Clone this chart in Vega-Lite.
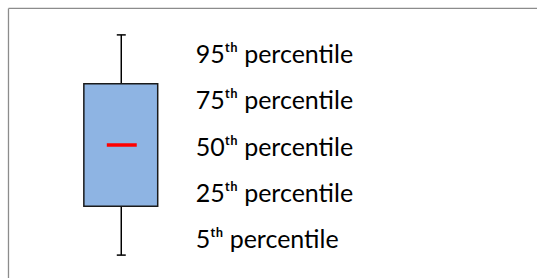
{
  "$schema": "https://vega.github.io/schema/vega-lite/v6.json",
  "width": 538,
  "height": 279,
  "autosize": {"type": "fit", "contains": "padding"},
  "padding": 0,
  "background": "white",
  "config": {
    "view": {"stroke": null},
    "axis": {"disable": true},
    "legend": {"disable": true}
  },
  "datasets": {
    "stats": [{"p5": 5, "p25": 25, "p50": 50, "p75": 75, "p95": 95}],
    "labels": [
      {"rank": 1, "label": "95ᵗʰ percentile"},
      {"rank": 2, "label": "75ᵗʰ percentile"},
      {"rank": 3, "label": "50ᵗʰ percentile"},
      {"rank": 4, "label": "25ᵗʰ percentile"},
      {"rank": 5, "label": "5ᵗʰ percentile"}
    ]
  },
  "resolve": {"scale": {"y": "independent"}},
  "layer": [
    {
      "data": {"name": "stats"},
      "mark": {"type": "rule", "color": "#8c8c8c", "strokeWidth": 1.3},
      "encoding": {
        "x": {"datum": 8.5, "type": "quantitative", "scale": {"domain": [0, 538], "nice": false, "zero": false}},
        "x2": {"datum": 538},
        "y": {"datum": 105.8, "type": "quantitative", "scale": {"domain": [-4.357, 109.26], "nice": false, "zero": false}}
      }
    },
    {
      "data": {"name": "stats"},
      "mark": {"type": "rule", "color": "#8c8c8c", "strokeWidth": 1.3},
      "encoding": {
        "x": {"datum": 8.5, "type": "quantitative", "scale": {"domain": [0, 538], "nice": false, "zero": false}},
        "y": {"datum": 105.8, "type": "quantitative", "scale": {"domain": [-4.357, 109.26], "nice": false, "zero": false}},
        "y2": {"datum": -4.357}
      }
    },
    {
      "data": {"name": "stats"},
      "mark": {"type": "rule", "color": "#000000", "strokeWidth": 1.5},
      "encoding": {
        "x": {"datum": 121.5, "type": "quantitative", "scale": {"domain": [0, 538], "nice": false, "zero": false}},
        "y": {"field": "p75", "type": "quantitative", "scale": {"domain": [-4.357, 109.26], "nice": false, "zero": false}},
        "y2": {"field": "p95"}
      }
    },
    {
      "data": {"name": "stats"},
      "mark": {"type": "rule", "color": "#000000", "strokeWidth": 1.5},
      "encoding": {
        "x": {"datum": 121.5, "type": "quantitative", "scale": {"domain": [0, 538], "nice": false, "zero": false}},
        "y": {"field": "p5", "type": "quantitative", "scale": {"domain": [-4.357, 109.26], "nice": false, "zero": false}},
        "y2": {"field": "p25"}
      }
    },
    {
      "data": {"name": "stats"},
      "mark": {"type": "rule", "color": "#000000", "strokeWidth": 1.5},
      "encoding": {
        "x": {"datum": 117, "type": "quantitative", "scale": {"domain": [0, 538], "nice": false, "zero": false}},
        "x2": {"datum": 126},
        "y": {"field": "p95", "type": "quantitative", "scale": {"domain": [-4.357, 109.26], "nice": false, "zero": false}}
      }
    },
    {
      "data": {"name": "stats"},
      "mark": {"type": "rule", "color": "#000000", "strokeWidth": 1.5},
      "encoding": {
        "x": {"datum": 117, "type": "quantitative", "scale": {"domain": [0, 538], "nice": false, "zero": false}},
        "x2": {"datum": 126},
        "y": {"field": "p5", "type": "quantitative", "scale": {"domain": [-4.357, 109.26], "nice": false, "zero": false}}
      }
    },
    {
      "data": {"name": "stats"},
      "mark": {"type": "rect", "fill": "#8eb4e3", "stroke": "#1a1a1a", "strokeWidth": 1.5},
      "encoding": {
        "x": {"datum": 84, "type": "quantitative", "scale": {"domain": [0, 538], "nice": false, "zero": false}},
        "x2": {"datum": 158},
        "y": {"field": "p25", "type": "quantitative", "scale": {"domain": [-4.357, 109.26], "nice": false, "zero": false}},
        "y2": {"field": "p75"}
      }
    },
    {
      "data": {"name": "stats"},
      "mark": {"type": "rule", "color": "#ff0000", "strokeWidth": 3.5},
      "encoding": {
        "x": {"datum": 107, "type": "quantitative", "scale": {"domain": [0, 538], "nice": false, "zero": false}},
        "x2": {"datum": 137},
        "y": {"field": "p50", "type": "quantitative", "scale": {"domain": [-4.357, 109.26], "nice": false, "zero": false}}
      }
    },
    {
      "data": {"name": "labels"},
      "mark": {"type": "text", "align": "left", "baseline": "alphabetic", "font": "Lato, DejaVu Sans", "fontSize": 25, "color": "#000000"},
      "encoding": {
        "x": {"datum": 196, "type": "quantitative", "scale": {"domain": [0, 538], "nice": false, "zero": false}},
        "y": {"field": "rank", "type": "ordinal", "scale": {"type": "point", "range": [63, 248], "padding": 0}},
        "text": {"field": "label"}
      }
    }
  ]
}
